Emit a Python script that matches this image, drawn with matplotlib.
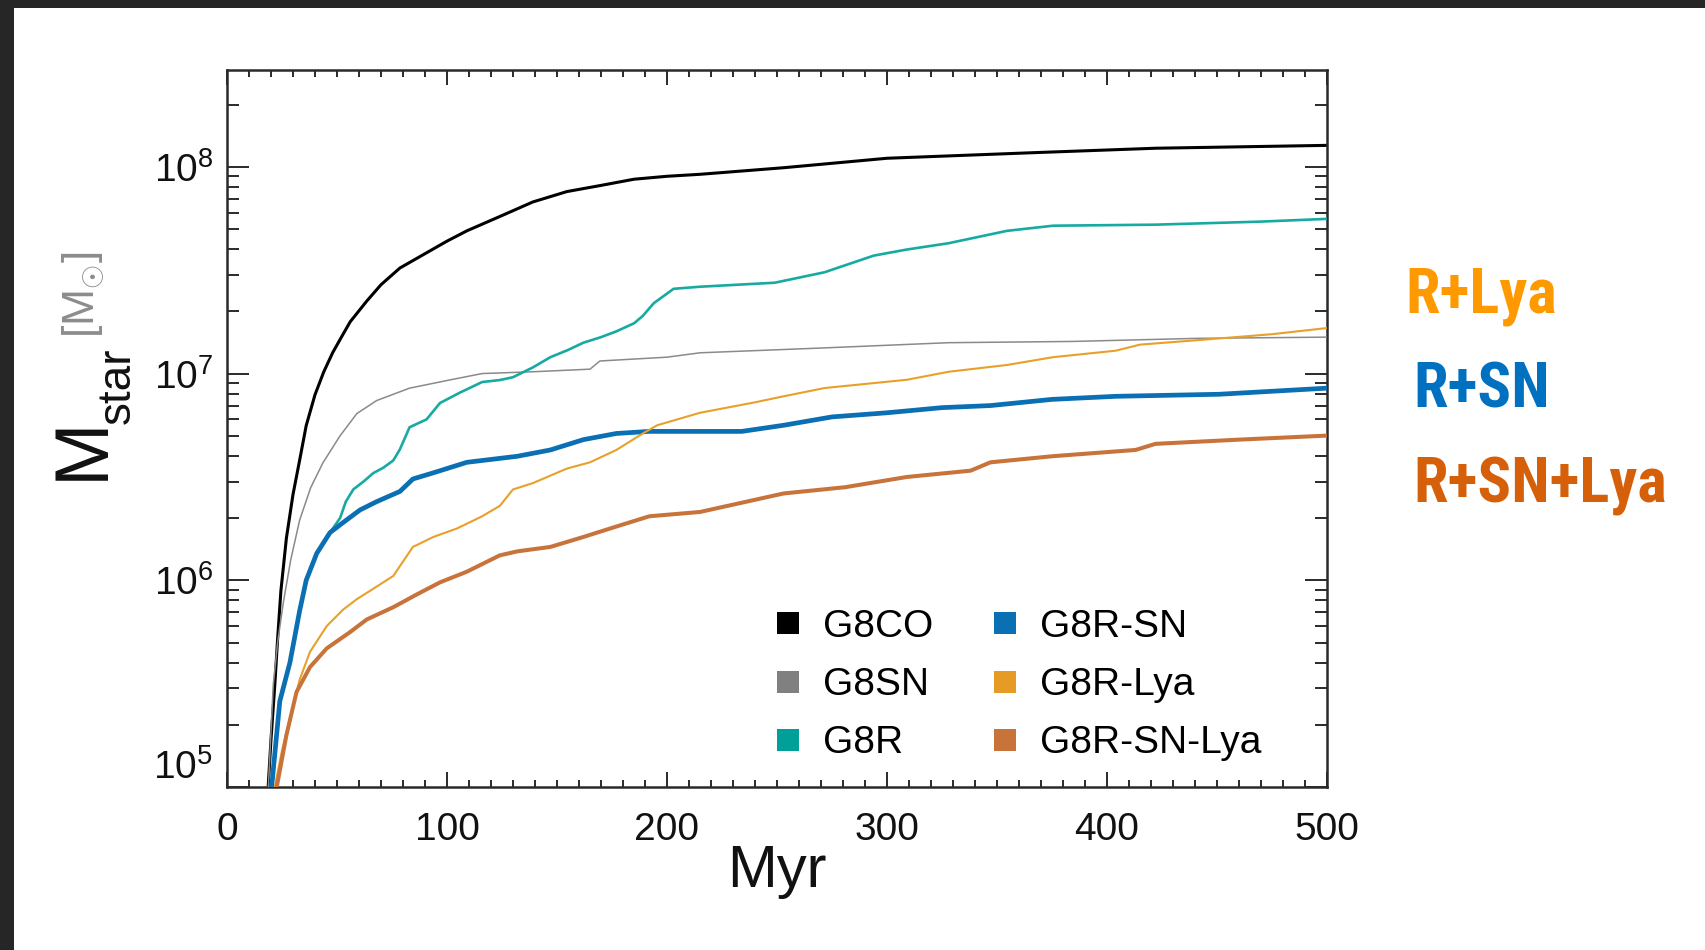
import numpy as np
import matplotlib
matplotlib.use('Agg')
import matplotlib.pyplot as plt
from matplotlib import font_manager
from matplotlib.lines import Line2D
from matplotlib.patches import Rectangle
from matplotlib.ticker import LogLocator, MultipleLocator, NullFormatter

plt.rcParams['font.family'] = ['Liberation Sans', 'DejaVu Sans']
plt.rcParams['mathtext.fontset'] = 'custom'
plt.rcParams['mathtext.rm'] = 'Liberation Sans'
plt.rcParams['mathtext.it'] = 'Liberation Sans:italic'
plt.rcParams['mathtext.bf'] = 'Liberation Sans:bold'

# ---------------- data (time in Myr, stellar mass in Msun) ----------------
g8co_t = [18.7, 20.0, 21.8, 23.0, 24.5, 27.0, 30.0, 33.0, 36.0, 40.0, 44.0, 48.0,
          52.0, 56.0, 63.5, 70.0, 78.6, 90.0, 100.0, 109.0, 124.0, 139.0, 154.5,
          170.0, 185.0, 200.0, 215.0, 253.0, 300.0, 366.0, 422.0, 500.0]
g8co_m = [1.0e5, 1.7e5, 3.2e5, 5.2e5, 8.9e5, 1.6e6, 2.6e6, 3.8e6, 5.6e6, 7.9e6,
          1.02e7, 1.26e7, 1.5e7, 1.78e7, 2.24e7, 2.69e7, 3.24e7, 3.8e7, 4.37e7,
          4.9e7, 5.75e7, 6.76e7, 7.59e7, 8.13e7, 8.71e7, 9.0e7, 9.2e7, 9.9e7,
          1.1e8, 1.17e8, 1.23e8, 1.27e8]

g8sn_t = [18.8, 21.0, 23.0, 25.6, 29.0, 33.0, 38.0, 43.6, 51.4, 59.0, 68.0, 83.0,
          101.0, 116.0, 139.0, 165.0, 169.5, 200.0, 215.0, 271.0, 328.0, 384.5,
          441.0, 500.0]
g8sn_m = [1.0e5, 3.1e5, 5.0e5, 7.8e5, 1.26e6, 1.95e6, 2.8e6, 3.7e6, 5.0e6, 6.4e6,
          7.4e6, 8.5e6, 9.3e6, 1.0e7, 1.02e7, 1.05e7, 1.15e7, 1.2e7, 1.26e7,
          1.33e7, 1.41e7, 1.43e7, 1.48e7, 1.5e7]

g8r_t = [20.3, 24.0, 28.6, 33.0, 36.0, 40.8, 46.8, 51.4, 54.0, 57.4, 62.0, 66.5,
         71.0, 75.6, 78.6, 83.0, 90.7, 96.8, 106.0, 116.0, 124.0, 130.0, 139.0,
         147.0, 155.0, 162.0, 170.0, 177.0, 185.0, 189.0, 194.0, 203.0, 215.0,
         249.0, 271.6, 294.0, 309.0, 328.0, 354.5, 375.5, 422.0, 469.5, 500.0]
g8r_m = [1.0e5, 2.6e5, 4.0e5, 7.1e5, 1.0e6, 1.35e6, 1.7e6, 2.0e6, 2.4e6, 2.75e6,
         3.0e6, 3.3e6, 3.5e6, 3.8e6, 4.3e6, 5.5e6, 6.0e6, 7.2e6, 8.1e6, 9.1e6,
         9.3e6, 9.6e6, 1.07e7, 1.2e7, 1.3e7, 1.41e7, 1.5e7, 1.6e7, 1.75e7,
         1.9e7, 2.19e7, 2.57e7, 2.63e7, 2.75e7, 3.09e7, 3.72e7, 3.98e7, 4.27e7,
         4.9e7, 5.19e7, 5.25e7, 5.43e7, 5.6e7]

g8rsn_t = [20.3, 24.0, 28.6, 33.0, 36.0, 40.8, 46.8, 52.7, 60.5, 68.0, 78.6, 84.5,
           93.8, 109.0, 132.0, 147.0, 162.0, 177.0, 192.0, 215.0, 234.0, 253.0,
           275.0, 300.0, 325.0, 347.0, 375.0, 404.0, 451.0, 500.0]
g8rsn_m = [1.0e5, 2.6e5, 4.0e5, 7.1e5, 1.0e6, 1.35e6, 1.7e6, 1.9e6, 2.19e6,
           2.4e6, 2.69e6, 3.09e6, 3.31e6, 3.72e6, 3.98e6, 4.27e6, 4.79e6,
           5.13e6, 5.25e6, 5.25e6, 5.25e6, 5.62e6, 6.17e6, 6.46e6, 6.84e6,
           7.0e6, 7.5e6, 7.76e6, 7.94e6, 8.5e6]

g8rlya_t = [21.7, 25.0, 28.6, 33.0, 37.7, 45.3, 52.7, 59.0, 66.5, 75.6, 84.5,
            93.8, 104.5, 116.0, 124.0, 130.0, 139.0, 154.5, 165.0, 177.0, 189.0,
            195.5, 215.0, 239.5, 253.0, 271.6, 309.0, 328.0, 354.5, 375.5, 404.0,
            415.0, 441.0, 475.0, 500.0]
g8rlya_m = [1.0e5, 1.5e5, 2.14e5, 3.3e5, 4.5e5, 6.0e5, 7.2e5, 8.1e5, 9.1e5,
            1.05e6, 1.45e6, 1.62e6, 1.78e6, 2.04e6, 2.29e6, 2.75e6, 2.95e6,
            3.47e6, 3.72e6, 4.27e6, 5.13e6, 5.62e6, 6.46e6, 7.24e6, 7.76e6,
            8.51e6, 9.33e6, 1.02e7, 1.1e7, 1.2e7, 1.29e7, 1.38e7, 1.45e7,
            1.55e7, 1.66e7]

g8rsnlya_t = [22.6, 27.0, 31.6, 37.7, 45.3, 56.0, 63.5, 75.6, 86.0, 96.8, 109.0,
              124.0, 132.0, 147.0, 162.0, 177.0, 192.0, 215.0, 253.0, 281.0,
              309.0, 338.0, 347.0, 375.0, 413.0, 422.0, 460.0, 500.0]
g8rsnlya_m = [1.0e5, 1.78e5, 2.88e5, 3.8e5, 4.68e5, 5.62e5, 6.46e5, 7.41e5,
              8.51e5, 9.77e5, 1.1e6, 1.32e6, 1.38e6, 1.45e6, 1.62e6, 1.82e6,
              2.04e6, 2.14e6, 2.63e6, 2.82e6, 3.16e6, 3.39e6, 3.72e6, 3.98e6,
              4.27e6, 4.57e6, 4.79e6, 5.01e6]

labels = ['G8CO', 'G8SN', 'G8R', 'G8R-SN', 'G8R-Lya', 'G8R-SN-Lya']
line_colors = ['#000000', '#8a8a8a', '#17aaa2', '#0a6fb3', '#e8a02a', '#c8733a']
legend_colors = ['#000000', '#808080', '#00a098', '#0a6fb3', '#e69c24', '#c8733a']
line_widths = [2.2, 1.1, 1.9, 3.4, 1.5, 2.9]

x_ticks = [0, 100, 200, 300, 400, 500]
annot_texts = ['R+Lya', 'R+SN', 'R+SN+Lya']
annot_colors = ['#ff9900', '#0070c0', '#d6600a']

series_t = [g8co_t, g8sn_t, g8r_t, g8rsn_t, g8rlya_t, g8rsnlya_t]
series_m = [g8co_m, g8sn_m, g8r_m, g8rsn_m, g8rlya_m, g8rsnlya_m]

# narrow bold face for the side notes, if one is installed
installed = {f.name for f in font_manager.fontManager.ttflist}
narrow = None
for cand in ['Liberation Sans Narrow', 'Roboto Condensed', 'Open Sans Condensed',
             'Arial Narrow']:
    if cand in installed:
        narrow = cand
        break
if narrow:
    note_family, note_size = [narrow, 'Liberation Sans'], 45
else:
    note_family, note_size = ['Liberation Sans', 'DejaVu Sans'], 40

# ---------------- figure ----------------
W, H = 1706, 950
fig = plt.figure(figsize=(W / 100, H / 100), dpi=100)
fig.patch.set_facecolor('white')
ax = fig.add_axes([227 / W, 1 - 787 / H, 1100 / W, 717 / H])

for i in range(len(labels)):
    ax.plot(series_t[i], series_m[i], color=line_colors[i], lw=line_widths[i],
            solid_joinstyle='round', zorder=2 + i)

ax.set_yscale('log')
ax.set_xlim(0, 500)
ax.set_ylim(1e5, 2.94e8)

ax.set_xticks(x_ticks)
ax.xaxis.set_minor_locator(MultipleLocator(10))
ax.yaxis.set_major_locator(LogLocator(base=10, numticks=10))
ax.yaxis.set_minor_locator(LogLocator(base=10, subs=np.arange(2, 10), numticks=30))
ax.yaxis.set_minor_formatter(NullFormatter())

ax.tick_params(which='both', direction='in', top=True, right=True,
               width=1.4, color='#2a2a2a', labelsize=28, labelcolor='#111111')
ax.tick_params(axis='x', which='major', length=10.5, pad=18)
ax.tick_params(axis='x', which='minor', length=5)
ax.tick_params(axis='y', which='major', length=16, pad=10)
ax.tick_params(axis='y', which='minor', length=8.5)
for s in ax.spines.values():
    s.set_linewidth(1.8)
    s.set_color('#2a2a2a')

# lift the lowest y label a little, as in the reference
fig.canvas.draw()
for tk in ax.yaxis.get_major_ticks():
    if abs(tk.get_loc() - 1e5) < 1:
        tk.label1.set_verticalalignment('bottom')

# x label
ax.set_xlabel('Myr', fontsize=43, va='baseline', color='#111111')
ax.xaxis.set_label_coords(0.5, (63 - 163) / 717)

# y label built from pieces (figure pixel anchors, baseline-left)
def ftxt(x, y, s, **kw):
    fig.text(x / W, 1 - y / H, s, rotation=90, rotation_mode='anchor',
             ha='left', va='baseline', **kw)

ftxt(103, 480, 'M', fontsize=55, color='#111111')
ftxt(130, 424, 'star', fontsize=33, color='#111111')
ftxt(95, 338, r'[M$_{\odot}$]', fontsize=32, color='#8c8c8c')

# legend
handles = [Line2D([], [], marker='s', linestyle='none', markersize=16.5,
                  markerfacecolor=c, markeredgewidth=0) for c in legend_colors]
ax.legend(handles, labels, ncol=2, frameon=False, fontsize=28,
          handlelength=0.6, handletextpad=0.6, columnspacing=1.55,
          labelspacing=0.57, loc='upper left', borderpad=0, borderaxespad=0,
          bbox_to_anchor=(776 / W, 1 - 609 / H), bbox_transform=fig.transFigure)

# annotations on the right
annot_pos = [(1405, 312), (1413, 407), (1413, 503)]
for (px, py), t, c in zip(annot_pos, annot_texts, annot_colors):
    fig.text(px / W, 1 - py / H, t, color=c, fontsize=note_size,
             fontweight='bold', family=note_family, ha='left', va='baseline')

# dark frame bands on top and left
fig.add_artist(Rectangle((0, 1 - 8 / H), 1, 8 / H, transform=fig.transFigure,
                         facecolor='#262626', edgecolor='none', zorder=10))
fig.add_artist(Rectangle((0, 0), 14 / W, 1, transform=fig.transFigure,
                         facecolor='#262626', edgecolor='none', zorder=10))

fig.savefig('out.png', dpi=100)
